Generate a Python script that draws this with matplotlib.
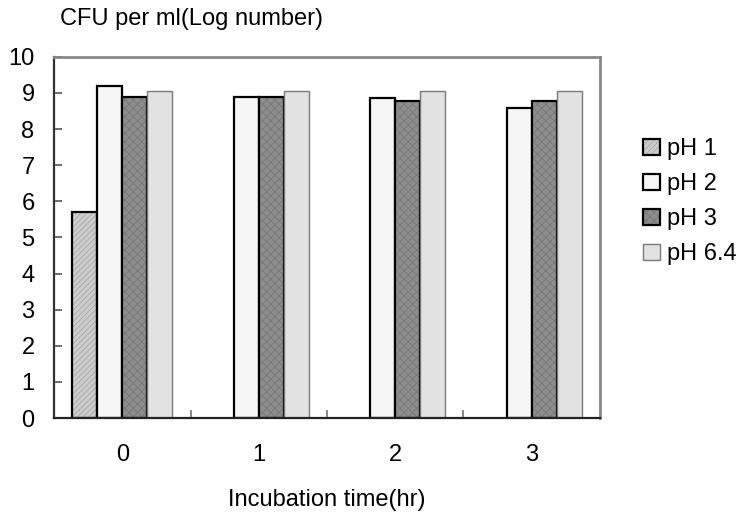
import numpy as np
import matplotlib
matplotlib.use("Agg")
import matplotlib.pyplot as plt
from matplotlib.legend_handler import HandlerTuple

plt.rcParams['font.family'] = ['Liberation Sans', 'DejaVu Sans']
plt.rcParams['hatch.linewidth'] = 0.6

# viable counts after acid exposure, log CFU/ml
hours = ['0', '1', '2', '3']
ph_labels = ['pH 1', 'pH 2', 'pH 3', 'pH 6.4']
ph1 = [5.70, np.nan, np.nan, np.nan]
ph2 = [9.18, 8.90, 8.85, 8.57]
ph3 = [8.89, 8.90, 8.78, 8.79]
ph64 = [9.05, 9.05, 9.05, 9.05]

series = [ph1, ph2, ph3, ph64]
faces = ['#cdcdcd', '#f6f6f6', '#8e8e8e', '#e2e2e2']
hatches = ['//////', '', 'xxxx', '']
hatch_cols = ['#a6a6a6', '#f6f6f6', '#777777', '#e2e2e2']
edges = ['black', 'black', 'black', '#7a7a7a']
widths_lw = [1.6, 1.6, 1.6, 1.0]

fig = plt.figure(figsize=(7.42, 5.26), dpi=100)
ax = fig.add_axes([0.0728, 0.2053, 0.7358, 0.6867])

x = np.arange(len(hours))
w = 0.183
handles = []
for i, vals in enumerate(series):
    pos = x + (i - 1.5) * w
    # fill with texture first, then the outline on top
    fill = ax.bar(pos, vals, width=w, color=faces[i], hatch=hatches[i],
                  edgecolor=hatch_cols[i], linewidth=0)
    outline = ax.bar(pos, vals, width=w, fill=False, edgecolor=edges[i],
                     linewidth=widths_lw[i])
    handles.append((fill, outline))

ax.set_xlim(-0.5, 3.5)
ax.set_ylim(0, 10)
ax.set_yticks(range(0, 11))
ax.tick_params(axis='y', direction='in', length=6, width=1.2, color='#555555',
               labelsize=17, pad=14)

ax.set_xticks(x)
ax.set_xticklabels(hours)
ax.tick_params(axis='x', which='major', length=0, labelsize=17, pad=18.5)
ax.set_xticks([0.5, 1.5, 2.5], minor=True)
ax.tick_params(axis='x', which='minor', direction='in', length=6, width=1.2,
               color='#777777')

for side in ['top', 'right']:
    ax.spines[side].set_color('#888888')
    ax.spines[side].set_linewidth(2)
ax.spines['left'].set_color('#333333')
ax.spines['left'].set_linewidth(1.6)
ax.spines['bottom'].set_color('#222222')
ax.spines['bottom'].set_linewidth(1.6)

ax.set_xlabel('Incubation time(hr)', fontsize=17, labelpad=16.5)
fig.text(60 / 742, 1 - 19 / 526, 'CFU per ml(Log number)', fontsize=17,
         ha='left', va='center')

ax.legend(handles, ph_labels, handler_map={tuple: HandlerTuple(ndivide=1, pad=0)},
          loc='upper left', bbox_to_anchor=(1.062, 0.80), frameon=False,
          fontsize=17, handlelength=0.7, handleheight=0.7, handletextpad=0.3,
          labelspacing=0.55, borderaxespad=0)

fig.savefig('out.png', dpi=100)
